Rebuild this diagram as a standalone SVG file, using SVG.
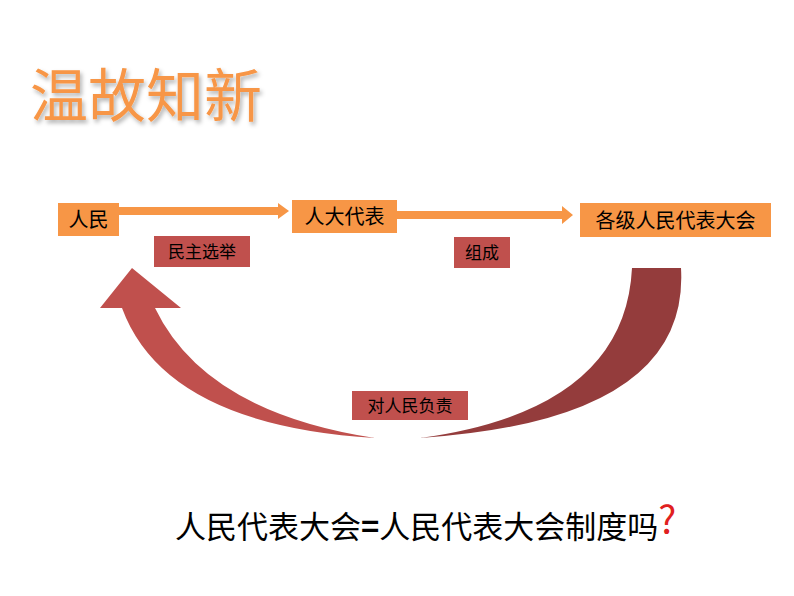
<svg xmlns="http://www.w3.org/2000/svg" width="794" height="596" viewBox="0 0 794 596">
<defs>
<style>
.box{fill:#f79646}
.lbl{fill:#c0504d}
.t{font-family:"Noto Sans CJK SC",sans-serif;fill:#000}
</style>
<filter id="sh" x="-10%" y="-10%" width="130%" height="140%"><feDropShadow dx="2" dy="3" stdDeviation="2" flood-color="#000" flood-opacity="0.3"/></filter>
</defs>
<rect width="794" height="596" fill="#fff"/>
<text x="30" y="117" font-family="Noto Sans CJK SC,sans-serif" font-size="58" fill="#f79646" filter="url(#sh)">温故知新</text>
<g id="connectors">
<path d="M119 207 H278 V203 L289 211 L278 219 V215 H119 Z" fill="#f79646"/>
<path d="M397 211 H562 V206 L573 215 L562 224 V219 H397 Z" fill="#f79646"/>
<path d="M375 438 Q165 425 122 308 L100 308 L132 268 L181 308 L155 308 Q205 412 375 438 Z" fill="#c0504d"/>
<path d="M632 268 L681 268 Q690 420 420 438 Q625 410 632 268 Z" fill="#943c3c"/>
</g>
<g id="n1"><rect class="box" x="58" y="203" width="61" height="33"/><text class="t" x="88.5" y="227" font-size="20" text-anchor="middle">人民</text></g>
<g id="n2"><rect class="box" x="292" y="200" width="105" height="33"/><text class="t" x="344.5" y="224" font-size="20" text-anchor="middle">人大代表</text></g>
<g id="n3"><rect class="box" x="580" y="203" width="191" height="34"/><text class="t" x="675.5" y="228" font-size="20" text-anchor="middle">各级人民代表大会</text></g>
<g id="l1"><rect class="lbl" x="154" y="236" width="96" height="31"/><text class="t" x="202" y="258" font-size="17" text-anchor="middle">民主选举</text></g>
<g id="l2"><rect class="lbl" x="454" y="237" width="56" height="31"/><text class="t" x="482" y="259" font-size="17" text-anchor="middle">组成</text></g>
<g id="l3"><rect class="lbl" x="352" y="391" width="116" height="29"/><text class="t" x="410" y="412" font-size="17" text-anchor="middle">对人民负责</text></g>
<text class="t" x="175" y="538" font-size="31">人民代表大会<tspan font-weight="bold">=</tspan>人民代表大会制度吗<tspan fill="#e02020" font-size="38" dy="-4">?</tspan></text>
</svg>
